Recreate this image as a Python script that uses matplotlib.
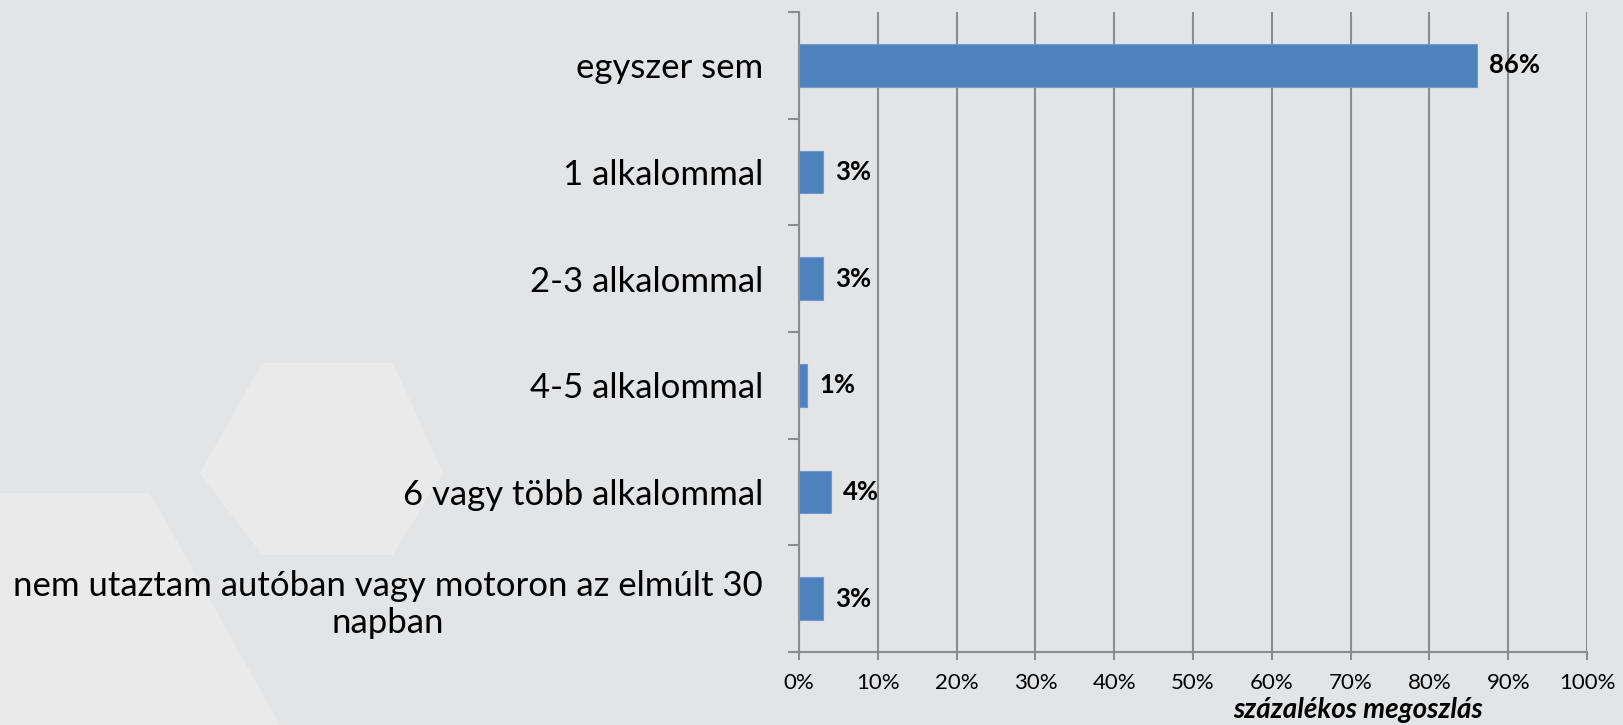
import matplotlib.pyplot as plt
from matplotlib.patches import Polygon
from matplotlib.ticker import FixedLocator, PercentFormatter

# adatok
kategoriak = ['egyszer sem', '1 alkalommal', '2-3 alkalommal', '4-5 alkalommal',
              '6 vagy több alkalommal',
              'nem utaztam autóban vagy motoron az elmúlt 30\nnapban']
ertekek = [86, 3, 3, 1, 4, 3]
x_cimke = 'százalékos megoszlás'

plt.rcParams['font.family'] = ['Lato', 'DejaVu Sans']

fig = plt.figure(figsize=(16.23, 7.25), dpi=100)
fig.patch.set_facecolor('#e3e4e6')

# halvány hatszög háttér (a tengely mögött)
bg = fig.add_axes([0, 0, 1, 1], zorder=-5)
bg.set_xlim(0, 1623)
bg.set_ylim(725, 0)
bg.axis('off')
for pts in [[(200, 473), (262, 363), (393, 363), (443, 473), (393, 555), (262, 555)],
            [(0, 493), (150, 493), (280, 725), (0, 725)]]:
    bg.add_patch(Polygon(pts, closed=True, facecolor='#eaeaeb', edgecolor='none'))

ax = fig.add_axes([799 / 1623, 1 - 652 / 725, 788 / 1623, 640 / 725])
ax.set_facecolor('none')

y = list(range(len(kategoriak)))
ax.barh(y, ertekek, height=0.4, color='#4f81bd', edgecolor='#6f9ad0', linewidth=0.8, zorder=3)
for yi, v in zip(y, ertekek):
    ax.text(v + 1.6, yi, f'{v}%', va='center', ha='left', fontsize=18.5, fontweight='bold', zorder=4)

ax.set_xlim(0, 100)
ax.set_ylim(len(kategoriak) - 0.5, -0.5)
ax.set_xticks(range(0, 101, 10))
ax.xaxis.set_major_formatter(PercentFormatter(decimals=0))
ax.set_yticks(y)
ax.set_yticklabels(kategoriak, fontsize=25, multialignment='center')
ax.yaxis.set_minor_locator(FixedLocator([i - 0.5 for i in range(len(kategoriak) + 1)]))

ax.grid(axis='x', color='#8c8c8c', linewidth=1.5, zorder=1)
for s in ['top', 'right']:
    ax.spines[s].set_visible(False)
for s in ['left', 'bottom']:
    ax.spines[s].set_color('#8c8c8c')
    ax.spines[s].set_linewidth(1.5)

ax.tick_params(axis='x', length=6, width=1.5, color='#8c8c8c', labelsize=16, pad=9)
ax.tick_params(axis='y', which='major', length=0, pad=26)
ax.tick_params(axis='y', which='minor', length=8, width=1.5, color='#8c8c8c')

fig.text(1358 / 1623, 1 - 710 / 725, x_cimke, ha='center', va='center',
         fontsize=20, fontweight='bold', style='italic')

fig.savefig('out.png', dpi=100, facecolor=fig.get_facecolor())
